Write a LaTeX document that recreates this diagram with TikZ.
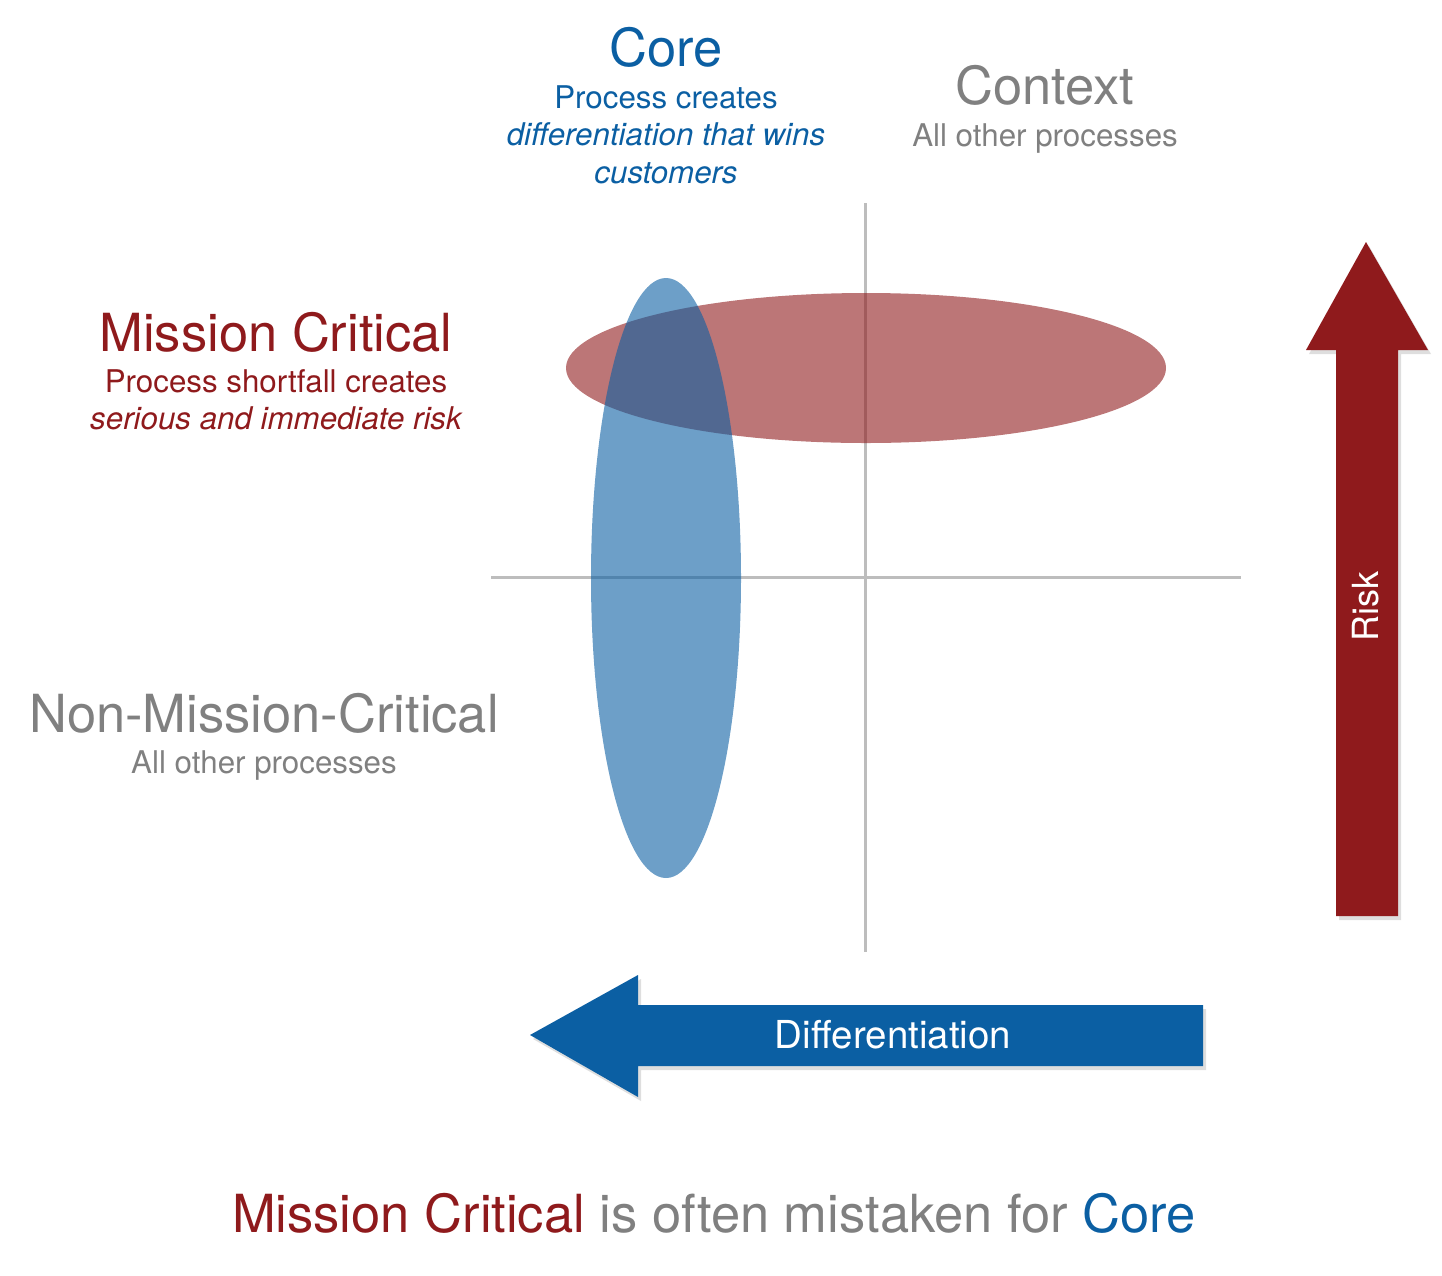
\documentclass[tikz,border=0pt]{standalone}
\usepackage{fontspec}
\setmainfont{TeX Gyre Heros}
\definecolor{mcred}{HTML}{8F1A1C}
\definecolor{coreblue}{HTML}{0B5FA3}
\definecolor{txtgray}{HTML}{808080}
\definecolor{axisgray}{HTML}{BDBDBD}
\begin{document}
\begin{tikzpicture}[x=1pt,y=-1pt,
  title/.style={anchor=base,inner sep=0pt,font=\fontsize{52.5}{52.5}\selectfont},
  sub/.style={anchor=base,inner sep=0pt,font=\fontsize{31.3}{31.3}\selectfont},
  axisline/.style={draw=axisgray,line width=3pt},
  shadowfill/.style={fill=black,opacity=0.13},
  arrowlabel/.style={inner sep=0pt,text=white,font=\fontsize{38.5}{38.5}\selectfont}]
\useasboundingbox (0,0) rectangle (1442,1275);

% axes
\coordinate (vtop) at (865,203);
\coordinate (vbot) at (865,952);
\coordinate (hl) at (491,577);
\coordinate (hr) at (1241,577);
\draw[axisline] (vtop) -- (vbot);
\draw[axisline] (hl) -- (hr);

% ellipses
\fill[mcred,opacity=0.6] (866,368) ellipse [x radius=300, y radius=75];
\fill[coreblue,opacity=0.6] (666,578) ellipse [x radius=75, y radius=300];

% risk arrow (up)
\fill[shadowfill] (1339,920) -- (1339,354) -- (1309,354) -- (1369,246) -- (1431,354) -- (1401,354) -- (1401,920) -- cycle;
\fill[mcred] (1336,916) -- (1336,350) -- (1306,350) -- (1366,242) -- (1428,350) -- (1398,350) -- (1398,916) -- cycle;
\node[arrowlabel,rotate=90,font=\fontsize{36}{36}\selectfont] (risk) at (1366,606) {Risk};

% differentiation arrow (left)
\fill[shadowfill] (533,1039) -- (641,979) -- (641,1009) -- (1206,1009) -- (1206,1070) -- (641,1070) -- (641,1101) -- cycle;
\fill[coreblue] (530,1035) -- (638,975) -- (638,1005) -- (1203,1005) -- (1203,1066) -- (638,1066) -- (638,1097) -- cycle;
\node[arrowlabel] (diff) at (893,1035) {Differentiation};

% Core
\node[title,text=coreblue] (core) at (666,66) {Core};
\node[sub,text=coreblue] (core1) at (666,108) {Process creates};
\node[sub,text=coreblue] (core2) at (666,145) {\itshape differentiation that wins};
\node[sub,text=coreblue] (core3) at (666,183) {\itshape customers};

% Context
\node[title,text=txtgray] (ctx) at (1045,104) {Context};
\node[sub,text=txtgray] (ctx1) at (1045,146) {All other processes};

% Mission Critical
\node[title,text=mcred] (mc) at (276,351) {Mission Critical};
\node[sub,text=mcred] (mc1) at (276,392) {Process shortfall creates};
\node[sub,text=mcred] (mc2) at (276,429) {\itshape serious and immediate risk};

% Non-Mission-Critical
\node[title,text=txtgray] (nmc) at (264,732) {Non-Mission-Critical};
\node[sub,text=txtgray] (nmc1) at (264,773) {All other processes};

% bottom
\node[title] (bottom) at (714,1232) {\textcolor{mcred}{Mission Critical} \textcolor{txtgray}{is often mistaken for} \textcolor{coreblue}{Core}};
\end{tikzpicture}
\end{document}
